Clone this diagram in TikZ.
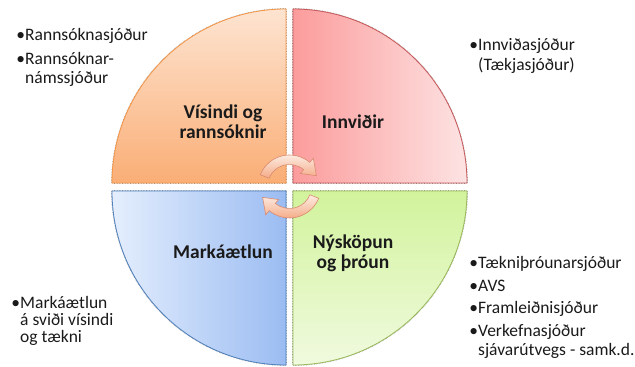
\documentclass[tikz,border=0pt]{standalone}
\usepackage{fontspec}
\setmainfont{Carlito}
\definecolor{tlA}{HTML}{FDE4D1}
\definecolor{tlB}{HTML}{FAAE76}
\definecolor{tlL}{HTML}{F79646}
\definecolor{trA}{HTML}{FC9C9C}
\definecolor{trB}{HTML}{FDE3E3}
\definecolor{trL}{HTML}{C9585A}
\definecolor{blA}{HTML}{E4EEFD}
\definecolor{blB}{HTML}{9BBCF2}
\definecolor{blL}{HTML}{4F81BD}
\definecolor{brA}{HTML}{D2F39C}
\definecolor{brB}{HTML}{F0FADF}
\definecolor{brL}{HTML}{9BBB59}
\definecolor{arA}{HTML}{FDEDE4}
\definecolor{arB}{HTML}{F4AA86}
\definecolor{arL}{HTML}{D98A6E}
\definecolor{txt}{HTML}{1A1A1A}
\tikzset{
  x=1pt,y=1pt,
  shadowline/.style={draw=black!45,line width=1.6pt,dash pattern=on 0.6pt off 1pt},
  quadlabel/.style={font=\fontsize{19.5}{20}\selectfont\bfseries,text=txt,align=center,inner sep=0pt},
  sidelist/.style={font=\fontsize{17.5}{19.5}\selectfont,text=txt,align=left,inner sep=0pt},
  swirl/.style={draw=arL,line width=0.6pt},
}
\begin{document}
\begin{tikzpicture}
\useasboundingbox (0,0) rectangle (635,367);
% shadows
\draw[shadowline] (286,184) -- ++(-174,0) arc[start angle=180,end angle=90,radius=174] -- cycle;
\draw[shadowline] (293,184) -- ++(0,174) arc[start angle=90,end angle=0,radius=174] -- cycle;
\draw[shadowline] (286,176) -- ++(0,-174) arc[start angle=270,end angle=180,radius=174] -- cycle;
\draw[shadowline] (293,176) -- ++(174,0) arc[start angle=0,end angle=-90,radius=174] -- cycle;
% quadrants
\draw[tlL,line width=0.8pt,top color=tlA,bottom color=tlB] (286,184) -- ++(-174,0) arc[start angle=180,end angle=90,radius=174] -- cycle;
\draw[trL,line width=0.8pt,left color=trA,right color=trB] (293,184) -- ++(0,174) arc[start angle=90,end angle=0,radius=174] -- cycle;
\draw[blL,line width=0.8pt,left color=blA,right color=blB] (286,176) -- ++(0,-174) arc[start angle=270,end angle=180,radius=174] -- cycle;
\draw[brL,line width=0.8pt,top color=brA,bottom color=brB] (293,176) -- ++(174,0) arc[start angle=0,end angle=-90,radius=174] -- cycle;
% swirl arrows
\begin{scope}[shift={(289.5,180.5)}]
  \draw[swirl,top color=arA,bottom color=arB] (158:22) -- (158:31.5) arc[start angle=158,end angle=50,radius=31.5]
     -- (50:37) -- (22:29) -- (50:17) -- (50:22) arc[start angle=50,end angle=158,radius=22] -- cycle;
  \draw[swirl,top color=arA,bottom color=arB] (-22:22) -- (-22:31.5) arc[start angle=-22,end angle=-130,radius=31.5]
     -- (-130:37) -- (-158:29) -- (-130:17) -- (-130:22) arc[start angle=-130,end angle=-22,radius=22] -- cycle;
\end{scope}
% labels
\node[quadlabel] (vr) at (223,245) {Vísindi og\\rannsóknir};
\node[quadlabel] (in) at (353,245) {Innviðir};
\node[quadlabel] (ma) at (223,115) {Markáætlun};
\node[quadlabel] (ny) at (353,114) {Nýsköpun\\og þróun};
% side lists (anchored at the baseline of their last line)
\node[sidelist,anchor=base west] (l1) at (25,283) {\llap{•}Rannsóknasjóður\\[4pt]\llap{•}Rannsóknar-\\námssjóður};
\node[sidelist,anchor=base west] (l2) at (478,296.5) {\llap{•}Innviðasjóður\\(Tækjasjóður)};
\node[sidelist,anchor=base west] (l3) at (478,11) {\llap{•}Tækniþróunarsjóður\\[3pt]\llap{•}AVS\\[3pt]\llap{•}Framleiðnisjóður\\[3pt]\llap{•}Verkefnasjóður\\sjávarútvegs - samk.d.};
\node[sidelist,anchor=base west,font=\fontsize{17.5}{17}\selectfont] (l4) at (20,24) {\llap{•}Markáætlun\\á sviði vísindi\\og tækni};
\end{tikzpicture}
\end{document}
